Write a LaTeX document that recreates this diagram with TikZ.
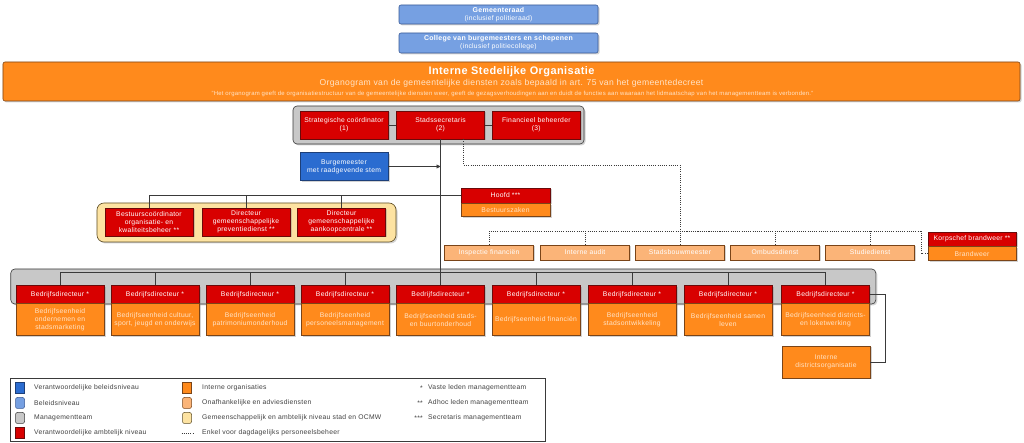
\documentclass[tikz,border=0pt]{standalone}
\usepackage{fontspec}
\setmainfont[LetterSpace=4]{Liberation Sans}
\usetikzlibrary{arrows.meta,positioning,shadows}

\definecolor{stadrood}{HTML}{D80000}
\definecolor{stadroodrand}{HTML}{6B0A0A}
\definecolor{stadoranje}{HTML}{FF8A1C}
\definecolor{stadoranjerand}{HTML}{7A4418}
\definecolor{stadlichtoranje}{HTML}{FBB478}
\definecolor{stadgeel}{HTML}{FDE3A2}
\definecolor{stadgeelrand}{HTML}{5E4E26}
\definecolor{stadblauw}{HTML}{2B6CD0}
\definecolor{stadblauwrand}{HTML}{1D3F78}
\definecolor{stadlichtblauw}{HTML}{76A0E2}
\definecolor{stadlichtblauwrand}{HTML}{3A5A96}
\definecolor{stadgrijs}{HTML}{C8C8C8}
\definecolor{stadlijn}{HTML}{3A3A3A}
\definecolor{stadtekst}{HTML}{404040}
\definecolor{stadperzik}{HTML}{FFE4C8}

\begin{document}
\begin{tikzpicture}[x=1bp, y=-1bp,
  every node/.style={font=\fontsize{6.8}{7.8}\selectfont, inner sep=1bp, align=center},
  schaduw/.style={drop shadow={shadow xshift=1.5bp, shadow yshift=-1.5bp, opacity=0.35}},
  unit/.style={rectangle, draw, line width=0.6bp, minimum width=88bp, schaduw},
  chief/.style={unit, fill=stadrood, draw=stadroodrand, text=white},
  dept/.style={unit, fill=stadoranje, draw=stadoranjerand, text=stadperzik},
  advice/.style={unit, fill=stadlichtoranje, draw=stadoranjerand, text=white, minimum width=89bp, minimum height=15bp},
  council/.style={unit, rounded corners=2bp, fill=stadlichtblauw, draw=stadlichtblauwrand, text=white, minimum width=199bp},
  mayor/.style={unit, fill=stadblauw, draw=stadblauwrand, text=white, minimum height=28.5bp},
  panel/.style={draw=stadlijn, line width=0.6bp, fill=stadgrijs, rounded corners=4bp, schaduw},
  link/.style={draw=stadlijn, line width=0.6bp},
  dotlink/.style={link, dash pattern=on 1bp off 1.2bp},
  legtext/.style={anchor=west, text=stadtekst, inner sep=0pt},
  swatch/.style={draw, line width=0.5bp, minimum width=9bp, minimum height=11bp, inner sep=0pt},
]
\useasboundingbox (0,0) rectangle (1024,443);

% bestuur
\node[council, minimum height=19bp] (raad) at (498.5,14.5) {{\fontsize{7}{8}\bfseries Gemeenteraad}\\(inclusief politieraad)};
\node[council, minimum height=20bp] (college) at (498.5,43) {{\fontsize{7}{8}\bfseries College van burgemeesters en schepenen}\\(inclusief politiecollege)};

% banner
\node[draw=stadoranjerand, line width=0.6bp, fill=stadoranje, rounded corners=2bp, minimum width=1017bp, minimum height=39bp, schaduw] (banner) at (511.5,81.5) {};
\node[text=white, font=\fontsize{11}{12}\bfseries] (bantitel) at (511.5,71.5) {Interne Stedelijke Organisatie};
\node[text=stadperzik, font=\fontsize{8.6}{9.6}\selectfont] (bansub) at (511.5,83) {Organogram van de gemeentelijke diensten zoals bepaald in art. 75 van het gemeentedecreet};
\node[text=stadperzik, font=\fontsize{6}{6.5}\selectfont] (banquote) at (512.5,94) {"Het organogram geeft de organisatiestructuur van de gemeentelijke diensten weer, geeft de gezagsverhoudingen aan en duidt de functies aan waaraan het lidmaatschap van het managementteam is verbonden."};

% managementteam
\node[panel, minimum width=291bp, minimum height=38bp] (mtpanel) at (438.5,125) {};
\node[chief, minimum height=28bp] (sc) at (344,125) {Strategische coördinator\\(1)};
\node[chief, minimum height=28bp] (ss) at (440.5,125) {Stadssecretaris\\(2)};
\node[chief, minimum height=28bp] (fb) at (536.3,125) {Financieel beheerder\\(3)};
\draw[link] (sc.east) -- (ss.west);
\draw[link] (ss.east) -- (fb.west);

\node[mayor] (burg) at (344,166.5) {Burgemeester\\met raadgevende stem};

% bestuurszaken en gemeenschappelijke diensten
\node[chief, minimum width=89bp, minimum height=15bp] (hoofdh) at (505.5,195.5) {Hoofd ***};
\node[dept, minimum width=89bp, minimum height=13bp, below=0pt of hoofdh] (hoofdb) {Bestuurszaken};

\node[draw=stadgeelrand, line width=0.6bp, fill=stadgeel, rounded corners=7bp, minimum width=299bp, minimum height=39bp, schaduw] (ocmw) at (246.5,222.5) {};
\node[chief, minimum height=28bp] (gem1) at (149,222) {Bestuurscoördinator\\organisatie- en\\kwaliteitsbeheer **};
\node[chief, minimum height=28bp] (gem2) at (246,222) {Directeur\\gemeenschappelijke\\preventiedienst **};
\node[chief, minimum height=28bp] (gem3) at (341.5,222) {Directeur\\gemeenschappelijke\\aankoopcentrale **};

% onafhankelijke diensten
\node[advice] (adv1) at (489,252.5) {Inspectie financiën};
\node[advice] (adv2) at (585,252.5) {Interne audit};
\node[advice] (adv3) at (680,252.5) {Stadsbouwmeester};
\node[advice] (adv4) at (775,252.5) {Ombudsdienst};
\node[advice] (adv5) at (870,252.5) {Studiedienst};
\node[chief, minimum height=14bp] (korpsh) at (972,239) {Korpschef brandweer **};
\node[dept, minimum height=14bp, below=0pt of korpsh] (korpsb) {Brandweer};

% bedrijfseenheden
\node[panel, minimum width=865bp, minimum height=35bp] (bepanel) at (443.3,286.5) {};
\node[chief, minimum height=17.4bp] (dir1) at (60,294.4) {Bedrijfsdirecteur *};
\node[chief, minimum height=17.4bp] (dir2) at (155,294.4) {Bedrijfsdirecteur *};
\node[chief, minimum height=17.4bp] (dir3) at (250,294.4) {Bedrijfsdirecteur *};
\node[chief, minimum height=17.4bp] (dir4) at (345,294.4) {Bedrijfsdirecteur *};
\node[chief, minimum height=17.4bp] (dir5) at (440.5,294.4) {Bedrijfsdirecteur *};
\node[chief, minimum height=17.4bp] (dir6) at (536,294.4) {Bedrijfsdirecteur *};
\node[chief, minimum height=17.4bp] (dir7) at (632,294.4) {Bedrijfsdirecteur *};
\node[chief, minimum height=17.4bp] (dir8) at (728,294.4) {Bedrijfsdirecteur *};
\node[chief, minimum height=17.4bp] (dir9) at (825.5,294.4) {Bedrijfsdirecteur *};
\node[dept, minimum height=32bp, below=0pt of dir1] (be1) {Bedrijfseenheid\\ondernemen en\\stadsmarketing};
\node[dept, minimum height=32bp, below=0pt of dir2] (be2) {Bedrijfseenheid cultuur,\\sport, jeugd en onderwijs};
\node[dept, minimum height=32bp, below=0pt of dir3] (be3) {Bedrijfseenheid\\patrimoniumonderhoud};
\node[dept, minimum height=32bp, below=0pt of dir4] (be4) {Bedrijfseenheid\\personeelsmanagement};
\node[dept, minimum height=32bp, below=0pt of dir5] (be5) {Bedrijfseenheid stads-\\en buurtonderhoud};
\node[dept, minimum height=32bp, below=0pt of dir6] (be6) {Bedrijfseenheid financiën};
\node[dept, minimum height=32bp, below=0pt of dir7] (be7) {Bedrijfseenheid\\stadsontwikkeling};
\node[dept, minimum height=32bp, below=0pt of dir8] (be8) {Bedrijfseenheid samen\\leven};
\node[dept, minimum height=32bp, below=0pt of dir9] (be9) {Bedrijfseenheid districts-\\en loketwerking};
\node[dept, minimum height=32bp] (district) at (826,362) {Interne\\districtsorganisatie};

% lijnen
\draw[link] (ss.south) -- (dir5.north);
\draw[link, -{Triangle[length=4bp,width=4bp]}] (burg.east) -- (burg.east -| ss.south);
\draw[link] (hoofdh.west) -| (gem1.north);
\draw[link] (gem2.north) -- (gem2.north |- hoofdh.west);
\draw[link] (gem3.north) -- (gem3.north |- hoofdh.west);
\draw[link] (dir1.north) -- ++(0,-13) -| (dir9.north);
\foreach \d in {2,...,8}
  \draw[link] (dir\d.north) -- ++(0,-13);
\draw[link] (dir9.east) -- ++(15,0) |- (district.east);

% enkel voor dagdagelijks personeelsbeheer
\coordinate (dotend) at (921,231);
\draw[dotlink] ([xshift=23bp]ss.south) -- ++(0,26) -| (adv3.north |- dotend) -- ++(48,0);
\draw[dotlink] (adv1.north) |- (dotend);
\foreach \a in {2,...,5}
  \draw[dotlink] (adv\a.north) -- (adv\a.north |- dotend);
\draw[dotlink] (korpsb.west) -| (dotend);

% legende
\node[draw=stadlijn, line width=0.6bp, fill=white, minimum width=535bp, minimum height=63bp] (legende) at (277.5,409.5) {};
\node[swatch, fill=stadblauw, draw=stadblauwrand] (lg1) at (20,388) {};
\node[swatch, fill=stadlichtblauw, draw=stadlichtblauwrand, rounded corners=2bp] (lg2) at (20,403) {};
\node[swatch, fill=stadgrijs, draw=stadlijn, rounded corners=2bp] (lg3) at (20,418) {};
\node[swatch, fill=stadrood, draw=stadroodrand] (lg4) at (20,433) {};
\node[legtext] (lt1) at (34,388) {Verantwoordelijke beleidsniveau};
\node[legtext] (lt2) at (34,403) {Beleidsniveau};
\node[legtext] (lt3) at (34,418) {Managementteam};
\node[legtext] (lt4) at (34,433) {Verantwoordelijke ambtelijk niveau};
\node[swatch, fill=stadoranje, draw=stadoranjerand] (lg5) at (187,388) {};
\node[swatch, fill=stadlichtoranje, draw=stadoranjerand, rounded corners=2bp] (lg6) at (187,403) {};
\node[swatch, fill=stadgeel, draw=stadgeelrand, rounded corners=2bp] (lg7) at (187,418) {};
\coordinate (lg8a) at (181.5,433);
\coordinate (lg8b) at (193,433);
\draw[dotlink] (lg8a) -- (lg8b);
\node[legtext] (lt5) at (202,388) {Interne organisaties};
\node[legtext] (lt6) at (202,403) {Onafhankelijke en adviesdiensten};
\node[legtext] (lt7) at (202,418) {Gemeenschappelijk en ambtelijk niveau stad en OCMW};
\node[legtext] (lt8) at (202,433) {Enkel voor dagdagelijks personeelsbeheer};
\node[legtext, anchor=east] (ls1) at (423,388) {*};
\node[legtext, anchor=east] (ls2) at (423,403) {**};
\node[legtext, anchor=east] (ls3) at (423,418) {***};
\node[legtext] (lt9) at (428,388) {Vaste leden managementteam};
\node[legtext] (lt10) at (428,403) {Adhoc leden managementteam};
\node[legtext] (lt11) at (428,418) {Secretaris managementteam};
\end{tikzpicture}
\end{document}
